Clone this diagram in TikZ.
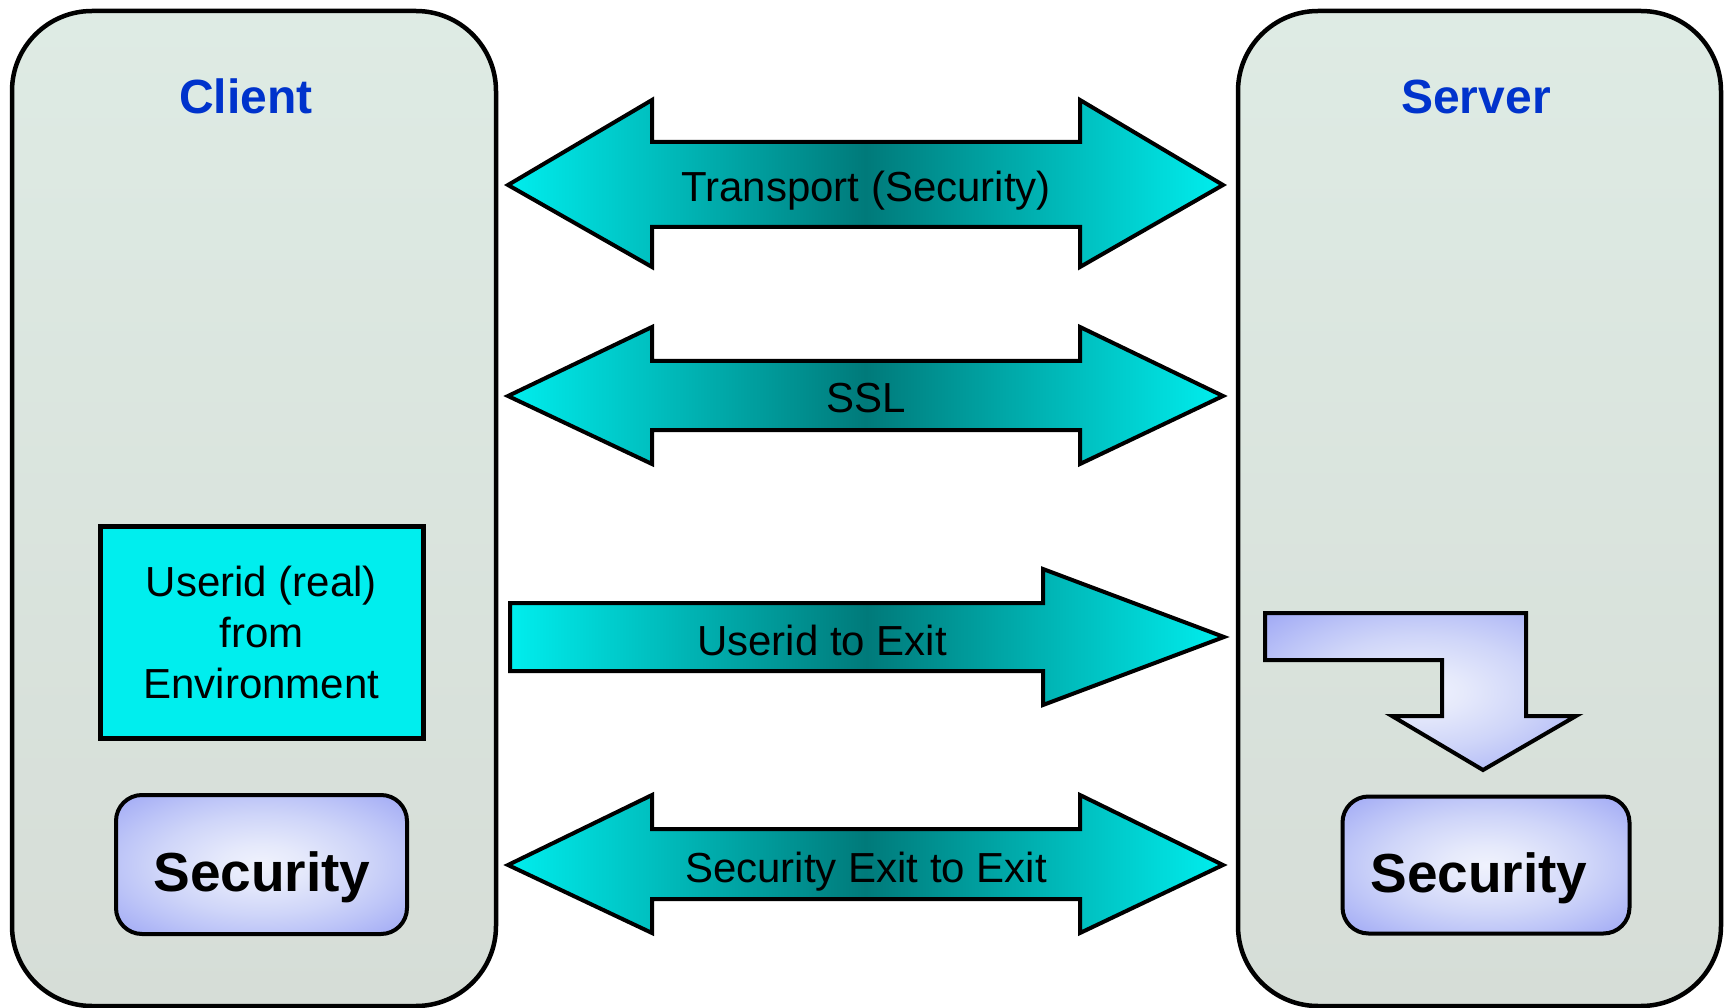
\documentclass[tikz,border=0pt]{standalone}
\usepackage{fontspec}
\setmainfont{Liberation Sans}
\definecolor{panelA}{RGB}{222,235,228}
\definecolor{panelB}{RGB}{214,221,215}
\definecolor{arrowEnd}{RGB}{0,238,238}
\definecolor{arrowMid}{RGB}{0,122,122}
\definecolor{boxCyan}{RGB}{0,238,238}
\definecolor{titleBlue}{RGB}{0,51,204}
\pgfdeclareradialshading{secshade}{\pgfpoint{0bp}{0bp}}{%
  rgb(0bp)=(0.94,0.95,0.992);
  rgb(7bp)=(0.90,0.915,0.985);
  rgb(18bp)=(0.81,0.835,0.975);
  rgb(25bp)=(0.74,0.77,0.97);
  rgb(35bp)=(0.63,0.665,0.96);
  rgb(50bp)=(0.63,0.665,0.96)}
\begin{document}
\begin{tikzpicture}[x=1pt,y=-1pt,
  panel/.style={draw=black, line width=4.5pt, rounded corners=80pt, top color=panelA, bottom color=panelB, inner sep=0pt},
  blockarrow/.style={draw=black, line width=4pt, left color=arrowEnd, right color=arrowEnd, middle color=arrowMid},
  bluefill/.style={draw=black, line width=4pt, shading=secshade},
  secbox/.style={bluefill, rounded corners=26pt, minimum width=291pt, minimum height=139pt, inner sep=0pt},
  lbl/.style={font=\fontsize{42}{51}\selectfont, text=black, anchor=base, inner sep=0pt},
  ttl/.style={font=\fontsize{48}{56}\selectfont\bfseries, text=titleBlue, anchor=base, inner sep=0pt},
  sectext/.style={font=\fontsize{55}{64}\selectfont\bfseries, text=black, anchor=base, inner sep=0pt}
]
\useasboundingbox (0,0) rectangle (1725,1008);

% panels
\node[panel, minimum width=484pt, minimum height=995pt] (client) at (254,508.5) {};
\node[panel, minimum width=483pt, minimum height=995pt] (server) at (1479.5,508.5) {};
\node[ttl] (clienttitle) at (246,114) {Client};
\node[ttl] (servertitle) at (1476,114) {Server};

% Transport (Security)
\path[blockarrow] (508,185) -- (652,100) -- (652,142) -- (1080,142) -- (1080,100) -- (1223,185)
  -- (1080,267) -- (1080,227) -- (652,227) -- (652,267) -- cycle;
\node[lbl] (transport) at (866,202) {Transport (Security)};

% SSL
\path[blockarrow] (508,396) -- (652,327) -- (652,361) -- (1080,361) -- (1080,327) -- (1223,396)
  -- (1080,464) -- (1080,430) -- (652,430) -- (652,464) -- cycle;
\node[lbl] (ssl) at (866,413) {SSL};

% Userid to Exit
\path[blockarrow] (510,603) -- (1043,603) -- (1043,569) -- (1224,637) -- (1043,705) -- (1043,671)
  -- (510,671) -- cycle;
\node[lbl] (useridexit) at (822,655) {Userid to Exit};

% Security Exit to Exit
\path[blockarrow] (508,865) -- (652,795) -- (652,829) -- (1080,829) -- (1080,795) -- (1223,865)
  -- (1080,933) -- (1080,899) -- (652,899) -- (652,933) -- cycle;
\node[lbl] (secexit) at (866,882) {Security Exit to Exit};

% Userid box
\node[draw=black, line width=5pt, fill=boxCyan, minimum width=323pt, minimum height=212pt,
  inner sep=0pt, align=center, font=\fontsize{42}{51}\selectfont] (userid) at (261.5,632)
  {Userid (real)\\from\\Environment};

% Security boxes
\node[secbox] (clientsec) at (261.5,864.5) {};
\node[sectext] (clientsectext) at (262,891) {Security};
\node[secbox, minimum width=287pt, minimum height=137pt] (serversec) at (1486,865) {};
\node[sectext] (serversectext) at (1479,892) {Security};

% bent arrow in server
\path[bluefill] (1265,613) -- (1526,613) -- (1526,716) -- (1576,716) -- (1483,770) -- (1392,716)
  -- (1442,716) -- (1442,660) -- (1265,660) -- cycle;
\end{tikzpicture}
\end{document}
